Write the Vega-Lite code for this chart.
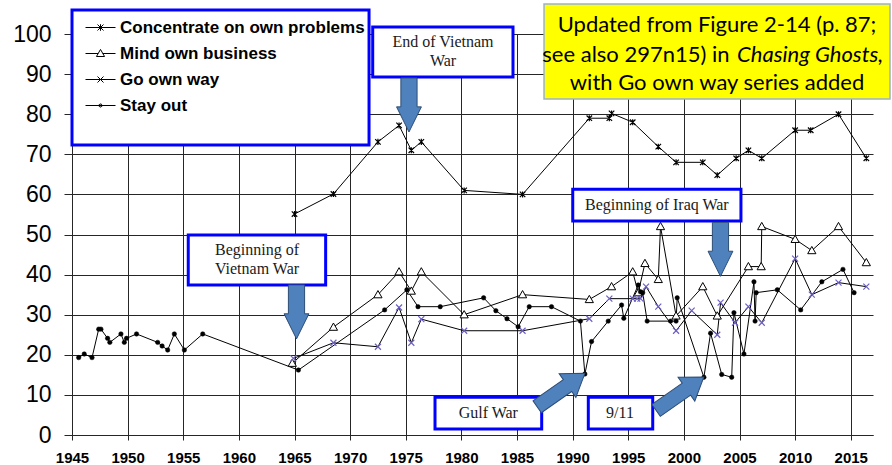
{
  "$schema": "https://vega.github.io/schema/vega-lite/v6.json",
  "width": 801,
  "height": 401,
  "autosize": {"type": "none"},
  "padding": {"left": 72, "top": 34, "right": 19, "bottom": 30},
  "background": "white",
  "config": {"view": {"stroke": null}},
  "datasets": {
    "pts": [
      {"s": "Concentrate on own problems", "year": 1965.0, "value": 55.1},
      {"s": "Concentrate on own problems", "year": 1968.5, "value": 60.1},
      {"s": "Concentrate on own problems", "year": 1972.5, "value": 73.1},
      {"s": "Concentrate on own problems", "year": 1974.4, "value": 77.2},
      {"s": "Concentrate on own problems", "year": 1975.5, "value": 71.0},
      {"s": "Concentrate on own problems", "year": 1976.4, "value": 73.1},
      {"s": "Concentrate on own problems", "year": 1980.25, "value": 61.0},
      {"s": "Concentrate on own problems", "year": 1985.5, "value": 60.0},
      {"s": "Concentrate on own problems", "year": 1991.5, "value": 79.0},
      {"s": "Concentrate on own problems", "year": 1993.3, "value": 79.0},
      {"s": "Concentrate on own problems", "year": 1993.5, "value": 80.2},
      {"s": "Concentrate on own problems", "year": 1995.4, "value": 78.0},
      {"s": "Concentrate on own problems", "year": 1997.7, "value": 71.9},
      {"s": "Concentrate on own problems", "year": 1999.3, "value": 68.0},
      {"s": "Concentrate on own problems", "year": 2001.7, "value": 68.0},
      {"s": "Concentrate on own problems", "year": 2003.0, "value": 64.8},
      {"s": "Concentrate on own problems", "year": 2004.7, "value": 69.0},
      {"s": "Concentrate on own problems", "year": 2005.8, "value": 71.0},
      {"s": "Concentrate on own problems", "year": 2007.0, "value": 69.0},
      {"s": "Concentrate on own problems", "year": 2010.0, "value": 76.0},
      {"s": "Concentrate on own problems", "year": 2011.4, "value": 76.0},
      {"s": "Concentrate on own problems", "year": 2013.9, "value": 80.0},
      {"s": "Concentrate on own problems", "year": 2016.4, "value": 69.0},
      {"s": "Mind own business", "year": 1964.8, "value": 17.9},
      {"s": "Mind own business", "year": 1968.5, "value": 26.9},
      {"s": "Mind own business", "year": 1972.5, "value": 35.0},
      {"s": "Mind own business", "year": 1974.4, "value": 40.7},
      {"s": "Mind own business", "year": 1975.5, "value": 35.9},
      {"s": "Mind own business", "year": 1976.4, "value": 40.7},
      {"s": "Mind own business", "year": 1980.25, "value": 30.0},
      {"s": "Mind own business", "year": 1985.5, "value": 35.0},
      {"s": "Mind own business", "year": 1991.5, "value": 33.8},
      {"s": "Mind own business", "year": 1993.5, "value": 37.0},
      {"s": "Mind own business", "year": 1995.4, "value": 40.7},
      {"s": "Mind own business", "year": 1995.9, "value": 35.5},
      {"s": "Mind own business", "year": 1996.5, "value": 42.8},
      {"s": "Mind own business", "year": 1997.7, "value": 38.8},
      {"s": "Mind own business", "year": 1997.9, "value": 52.0},
      {"s": "Mind own business", "year": 1999.3, "value": 29.7},
      {"s": "Mind own business", "year": 2001.7, "value": 37.0},
      {"s": "Mind own business", "year": 2003.0, "value": 29.7},
      {"s": "Mind own business", "year": 2005.8, "value": 42.0},
      {"s": "Mind own business", "year": 2006.95, "value": 42.0},
      {"s": "Mind own business", "year": 2007.0, "value": 52.0},
      {"s": "Mind own business", "year": 2010.0, "value": 48.8},
      {"s": "Mind own business", "year": 2011.5, "value": 46.0},
      {"s": "Mind own business", "year": 2013.9, "value": 52.0},
      {"s": "Mind own business", "year": 2016.4, "value": 43.0},
      {"s": "Go own way", "year": 1964.9, "value": 19.1},
      {"s": "Go own way", "year": 1968.5, "value": 23.0},
      {"s": "Go own way", "year": 1972.5, "value": 22.0},
      {"s": "Go own way", "year": 1974.4, "value": 31.8},
      {"s": "Go own way", "year": 1975.5, "value": 23.0},
      {"s": "Go own way", "year": 1976.4, "value": 28.9},
      {"s": "Go own way", "year": 1980.25, "value": 26.0},
      {"s": "Go own way", "year": 1985.5, "value": 26.0},
      {"s": "Go own way", "year": 1991.5, "value": 29.0},
      {"s": "Go own way", "year": 1993.3, "value": 34.0},
      {"s": "Go own way", "year": 1995.4, "value": 34.0},
      {"s": "Go own way", "year": 1995.8, "value": 34.0},
      {"s": "Go own way", "year": 1996.1, "value": 34.0},
      {"s": "Go own way", "year": 1996.6, "value": 37.0},
      {"s": "Go own way", "year": 1997.7, "value": 32.0},
      {"s": "Go own way", "year": 1999.3, "value": 26.0},
      {"s": "Go own way", "year": 2000.7, "value": 31.0},
      {"s": "Go own way", "year": 2003.0, "value": 25.0},
      {"s": "Go own way", "year": 2003.3, "value": 33.0},
      {"s": "Go own way", "year": 2004.6, "value": 28.0},
      {"s": "Go own way", "year": 2005.8, "value": 32.0},
      {"s": "Go own way", "year": 2007.0, "value": 28.0},
      {"s": "Go own way", "year": 2010.0, "value": 44.0},
      {"s": "Go own way", "year": 2011.5, "value": 35.0},
      {"s": "Go own way", "year": 2013.9, "value": 38.0},
      {"s": "Go own way", "year": 2016.4, "value": 37.0},
      {"s": "Stay out", "year": 1945.6, "value": 19.3},
      {"s": "Stay out", "year": 1946.1, "value": 20.2},
      {"s": "Stay out", "year": 1946.8, "value": 19.3},
      {"s": "Stay out", "year": 1947.4, "value": 26.4},
      {"s": "Stay out", "year": 1947.6, "value": 26.4},
      {"s": "Stay out", "year": 1948.2, "value": 24.1},
      {"s": "Stay out", "year": 1948.4, "value": 23.1},
      {"s": "Stay out", "year": 1949.4, "value": 25.2},
      {"s": "Stay out", "year": 1949.7, "value": 23.1},
      {"s": "Stay out", "year": 1949.9, "value": 24.1},
      {"s": "Stay out", "year": 1950.8, "value": 25.2},
      {"s": "Stay out", "year": 1952.7, "value": 23.1},
      {"s": "Stay out", "year": 1953.1, "value": 22.2},
      {"s": "Stay out", "year": 1953.6, "value": 21.2},
      {"s": "Stay out", "year": 1954.2, "value": 25.2},
      {"s": "Stay out", "year": 1955.1, "value": 21.2},
      {"s": "Stay out", "year": 1956.75, "value": 25.2},
      {"s": "Stay out", "year": 1965.35, "value": 16.2},
      {"s": "Stay out", "year": 1973.1, "value": 31.2},
      {"s": "Stay out", "year": 1975.1, "value": 36.2},
      {"s": "Stay out", "year": 1976.1, "value": 32.0},
      {"s": "Stay out", "year": 1978.1, "value": 32.0},
      {"s": "Stay out", "year": 1982.0, "value": 34.2},
      {"s": "Stay out", "year": 1983.1, "value": 31.0},
      {"s": "Stay out", "year": 1984.1, "value": 29.0},
      {"s": "Stay out", "year": 1985.1, "value": 27.0},
      {"s": "Stay out", "year": 1986.1, "value": 32.0},
      {"s": "Stay out", "year": 1988.1, "value": 32.0},
      {"s": "Stay out", "year": 1990.7, "value": 28.4},
      {"s": "Stay out", "year": 1991.1, "value": 15.2},
      {"s": "Stay out", "year": 1991.7, "value": 23.3},
      {"s": "Stay out", "year": 1993.2, "value": 28.4},
      {"s": "Stay out", "year": 1994.4, "value": 32.4},
      {"s": "Stay out", "year": 1994.6, "value": 29.1},
      {"s": "Stay out", "year": 1995.9, "value": 37.4},
      {"s": "Stay out", "year": 1996.1, "value": 35.7},
      {"s": "Stay out", "year": 1996.3, "value": 35.5},
      {"s": "Stay out", "year": 1996.7, "value": 28.4},
      {"s": "Stay out", "year": 1998.8, "value": 28.4},
      {"s": "Stay out", "year": 1999.3, "value": 28.4},
      {"s": "Stay out", "year": 1999.4, "value": 34.2},
      {"s": "Stay out", "year": 2001.8, "value": 14.4},
      {"s": "Stay out", "year": 2002.4, "value": 25.4},
      {"s": "Stay out", "year": 2003.4, "value": 15.1},
      {"s": "Stay out", "year": 2004.3, "value": 14.4},
      {"s": "Stay out", "year": 2004.5, "value": 30.5},
      {"s": "Stay out", "year": 2005.4, "value": 20.2},
      {"s": "Stay out", "year": 2006.3, "value": 38.2},
      {"s": "Stay out", "year": 2006.4, "value": 28.4},
      {"s": "Stay out", "year": 2006.5, "value": 35.5},
      {"s": "Stay out", "year": 2008.4, "value": 36.2},
      {"s": "Stay out", "year": 2010.5, "value": 31.2},
      {"s": "Stay out", "year": 2012.4, "value": 38.2},
      {"s": "Stay out", "year": 2014.3, "value": 41.3},
      {"s": "Stay out", "year": 2015.3, "value": 35.5}
    ],
    "blueBoxes": [
      {"x1": 1945.0, "x2": 1971.7, "y1": 106.0, "y2": 72.3},
      {"x1": 1972.03, "x2": 1984.64, "y1": 101.75, "y2": 89.28},
      {"x1": 1955.45, "x2": 1967.8, "y1": 49.88, "y2": 37.41},
      {"x1": 1990.01, "x2": 2005.13, "y1": 61.27, "y2": 53.37},
      {"x1": 1977.63, "x2": 1987.22, "y1": 9.4, "y2": 1.5},
      {"x1": 1991.41, "x2": 1997.2, "y1": 9.4, "y2": 1.5}
    ],
    "yellowBox": [
      {"x1": 1987.43, "x2": 2018.53, "y1": 107.5, "y2": 83.8}
    ],
    "serifText": [
      {"x": 1978.35, "y": 98.0, "t": "End of Vietnam"},
      {"x": 1978.35, "y": 93.27, "t": "War"},
      {"x": 1961.63, "y": 46.13, "t": "Beginning of"},
      {"x": 1961.63, "y": 41.4, "t": "Vietnam War"},
      {"x": 1997.57, "y": 57.36, "t": "Beginning of Iraq War"},
      {"x": 1982.42, "y": 5.56, "t": "Gulf War"},
      {"x": 1994.26, "y": 5.56, "t": "9/11"}
    ],
    "noteCentered": [
      {"x": 2002.98, "y": 102.24, "t": "Updated from Figure 2-14 (p. 87;"},
      {"x": 2002.98, "y": 87.78, "t": "with Go own way series added"}
    ],
    "noteLeftPart": [
      {"x": 2004.11, "y": 94.76, "t": "see also 297n15) in"}
    ],
    "noteItalic": [
      {"x": 2004.78, "y": 94.76, "t": "Chasing Ghosts,"}
    ],
    "downArrows": [
      {"x": 1975.29, "y": 82.3},
      {"x": 1965.18, "y": 30.7},
      {"x": 2003.29, "y": 46.3}
    ],
    "diagArrows": [
      {"x": 1988.96, "y": 11.2},
      {"x": 1999.65, "y": 10.3}
    ]
  },
  "layer": [
    {
      "data": {"name": "pts"},
      "mark": {"type": "line", "color": "black", "strokeWidth": 1},
      "encoding": {
        "x": {
          "field": "year", "type": "quantitative",
          "scale": {"domain": [1945, 2017], "nice": false, "zero": false},
          "axis": {
            "values": [1945, 1950, 1955, 1960, 1965, 1970, 1975, 1980, 1985, 1990, 1995, 2000, 2005, 2010, 2015],
            "format": "d", "title": null,
            "labelFont": "Liberation Sans", "labelFontWeight": "bold", "labelFontSize": 15,
            "labelColor": "black", "labelPadding": 10, "labelFlush": false,
            "tickSize": 5, "tickColor": "#262626", "domainColor": "#262626",
            "gridColor": "#262626", "gridOpacity": 1, "grid": true
          }
        },
        "y": {
          "field": "value", "type": "quantitative",
          "scale": {"domain": [0, 100], "nice": false},
          "axis": {
            "values": [0, 10, 20, 30, 40, 50, 60, 70, 80, 90, 100],
            "title": null,
            "labelFont": "Liberation Sans", "labelFontSize": 23, "labelColor": "black",
            "labelPadding": 13, "tickSize": 8, "tickColor": "#262626", "domainColor": "#262626",
            "gridColor": "#262626", "gridOpacity": 1, "grid": true
          }
        },
        "detail": {"field": "s", "type": "nominal"}
      }
    },
    {
      "data": {"name": "pts"},
      "transform": [{"filter": "datum.s === 'Concentrate on own problems'"}],
      "mark": {"type": "point", "shape": "M-1,-1L1,1M-1,1L1,-1M0,-1.1V1.1", "size": 30, "filled": false, "stroke": "black", "strokeWidth": 1.2, "opacity": 1},
      "encoding": {"x": {"field": "year", "type": "quantitative"}, "y": {"field": "value", "type": "quantitative"}}
    },
    {
      "data": {"name": "pts"},
      "transform": [{"filter": "datum.s === 'Mind own business'"}],
      "mark": {"type": "point", "shape": "M-1.3,1L0,-1.3L1.3,1Z", "size": 40, "filled": true, "fill": "white", "stroke": "black", "strokeWidth": 1, "opacity": 1},
      "encoding": {"x": {"field": "year", "type": "quantitative"}, "y": {"field": "value", "type": "quantitative"}}
    },
    {
      "data": {"name": "pts"},
      "transform": [{"filter": "datum.s === 'Go own way'"}],
      "mark": {"type": "point", "shape": "M-1,-1L1,1M-1,1L1,-1", "size": 36, "filled": false, "stroke": "#6b5fc7", "strokeWidth": 1.2, "opacity": 1},
      "encoding": {"x": {"field": "year", "type": "quantitative"}, "y": {"field": "value", "type": "quantitative"}}
    },
    {
      "data": {"name": "pts"},
      "transform": [{"filter": "datum.s === 'Stay out'"}],
      "mark": {"type": "point", "shape": "circle", "size": 20, "filled": true, "fill": "black", "stroke": "black", "strokeWidth": 0.5, "opacity": 1},
      "encoding": {"x": {"field": "year", "type": "quantitative"}, "y": {"field": "value", "type": "quantitative"}}
    },
    {
      "data": {"name": "blueBoxes"},
      "mark": {"type": "rect", "fill": "white", "stroke": "#0000ff", "strokeWidth": 3, "clip": false},
      "encoding": {
        "x": {"field": "x1", "type": "quantitative"}, "x2": {"field": "x2"},
        "y": {"field": "y1", "type": "quantitative"}, "y2": {"field": "y2"}
      }
    },
    {
      "data": {"name": "yellowBox"},
      "mark": {"type": "rect", "fill": "#ffff00", "stroke": "#9bb0d0", "strokeWidth": 1.5, "clip": false},
      "encoding": {
        "x": {"field": "x1", "type": "quantitative"}, "x2": {"field": "x2"},
        "y": {"field": "y1", "type": "quantitative"}, "y2": {"field": "y2"}
      }
    },
    {
      "data": {"name": "pts"},
      "mark": {"type": "point", "filled": true, "fill": "white", "stroke": "black", "opacity": 0, "strokeWidth": 1, "size": 30},
      "encoding": {
        "x": {"field": "year", "type": "quantitative"},
        "y": {"field": "value", "type": "quantitative"},
        "shape": {
          "field": "s", "type": "nominal",
          "scale": {
            "domain": ["Concentrate on own problems", "Mind own business", "Go own way", "Stay out"],
            "range": [
              "M-1,0L1,0M-0.2,-0.2L0.2,0.2M-0.2,0.2L0.2,-0.2M0,-0.22L0,0.22",
              "M-1,0L-0.155,0M0.155,0L1,0M-0.27,0.2L0,-0.27L0.27,0.2Z",
              "M-1,0L1,0M-0.2,-0.2L0.2,0.2M-0.2,0.2L0.2,-0.2",
              "M-1,0L1,0M-0.1,-0.04L-0.04,-0.1L0.04,-0.1L0.1,-0.04L0.1,0.04L0.04,0.1L-0.04,0.1L-0.1,0.04ZM-0.04,0L0.04,0M0,-0.04L0,0.04"
            ]
          },
          "legend": {
            "title": null, "orient": "none", "legendX": 13, "legendY": -22,
            "symbolSize": 900, "symbolStrokeWidth": 1, "symbolOpacity": 1,
            "labelOffset": 4, "rowPadding": 2,
            "labelFont": "Liberation Sans", "labelFontWeight": "bold", "labelFontSize": 17, "labelColor": "black", "labelLimit": 400
          }
        }
      }
    },
    {
      "data": {"name": "downArrows"},
      "mark": {"type": "point", "shape": "M-0.3,-1L0.3,-1L0.3,0.07L0.46,0.07L0,1L-0.46,0.07L-0.3,0.07Z", "size": 2916, "filled": true, "fill": "#4f81bd", "stroke": "#2c4d75", "strokeWidth": 1, "opacity": 1, "clip": false},
      "encoding": {"x": {"field": "x", "type": "quantitative"}, "y": {"field": "y", "type": "quantitative"}}
    },
    {
      "data": {"name": "diagArrows"},
      "mark": {"type": "point", "shape": "M-1,-0.25L0.27,-0.25L0.27,-0.5L1,0L0.27,0.5L0.27,0.25L-1,0.25Z", "size": 3400, "angle": -35, "filled": true, "fill": "#4f81bd", "stroke": "#2c4d75", "strokeWidth": 1, "opacity": 1, "clip": false},
      "encoding": {"x": {"field": "x", "type": "quantitative"}, "y": {"field": "y", "type": "quantitative"}}
    },
    {
      "data": {"name": "serifText"},
      "mark": {"type": "text", "font": "Liberation Serif", "fontSize": 16, "color": "#1a1a1a", "align": "center", "baseline": "middle", "clip": false},
      "encoding": {"x": {"field": "x", "type": "quantitative"}, "y": {"field": "y", "type": "quantitative"}, "text": {"field": "t", "type": "nominal"}}
    },
    {
      "data": {"name": "noteCentered"},
      "mark": {"type": "text", "font": "Lato", "fontSize": 22, "color": "black", "align": "center", "baseline": "middle", "clip": false},
      "encoding": {"x": {"field": "x", "type": "quantitative"}, "y": {"field": "y", "type": "quantitative"}, "text": {"field": "t", "type": "nominal"}}
    },
    {
      "data": {"name": "noteLeftPart"},
      "mark": {"type": "text", "font": "Lato", "fontSize": 22, "color": "black", "align": "right", "baseline": "middle", "clip": false},
      "encoding": {"x": {"field": "x", "type": "quantitative"}, "y": {"field": "y", "type": "quantitative"}, "text": {"field": "t", "type": "nominal"}}
    },
    {
      "data": {"name": "noteItalic"},
      "mark": {"type": "text", "font": "Lato", "fontSize": 22, "fontStyle": "italic", "color": "black", "align": "left", "baseline": "middle", "clip": false},
      "encoding": {"x": {"field": "x", "type": "quantitative"}, "y": {"field": "y", "type": "quantitative"}, "text": {"field": "t", "type": "nominal"}}
    }
  ]
}
